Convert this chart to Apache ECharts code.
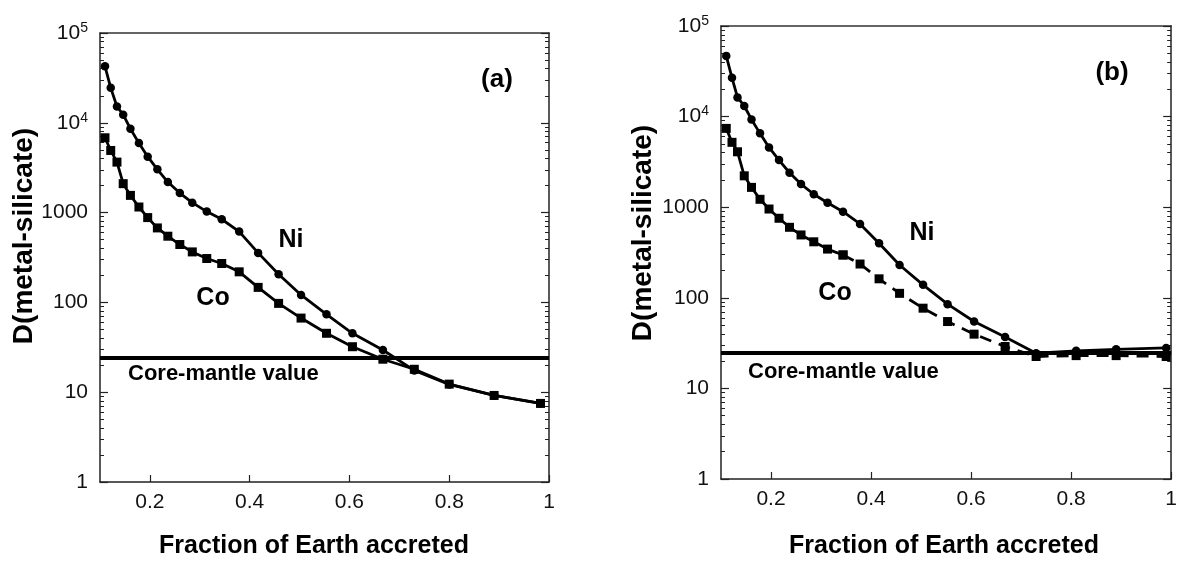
<!DOCTYPE html>
<html>
<head>
<meta charset="utf-8">
<script src="https://cdn.jsdelivr.net/npm/echarts@6/dist/echarts.min.js"></script>
<style>
html,body{margin:0;padding:0;background:#fff;}
#c{width:1180px;height:561px;}
</style>
</head>
<body>
<div id="c"></div>
<script>
// ---- data ----
var X_A = [0.110, 0.1215, 0.134, 0.1465, 0.161, 0.178, 0.1956, 0.215, 0.236, 0.260, 0.285, 0.314, 0.344, 0.379, 0.417, 0.458, 0.503, 0.554, 0.606, 0.667, 0.73, 0.80, 0.89, 0.983];
var NI_A = [42600, 24500, 15200, 12300, 8570, 5940, 4190, 3030, 2190, 1650, 1290, 1026, 843, 615, 356, 206, 121, 73.6, 45.3, 29.5, 17.5, 12.2, 9.2, 7.5];
var CO_A = [6810, 4920, 3650, 2100, 1555, 1154, 880, 675, 546, 441, 365, 308, 271, 219, 147, 97.5, 66.9, 45.3, 32.1, 23.3, 18, 12.3, 9.2, 7.5];

var X_B = [0.1105, 0.122, 0.133, 0.1465, 0.161, 0.178, 0.196, 0.216, 0.237, 0.260, 0.2855, 0.313, 0.344, 0.378, 0.416, 0.457, 0.504, 0.553, 0.606, 0.668, 0.73, 0.81, 0.89, 0.99];
var NI_B = [46800, 26800, 16300, 13100, 9310, 6530, 4570, 3310, 2400, 1800, 1390, 1120, 892, 653, 400, 230, 139, 85, 54.7, 37, 24.5, 26, 27, 28];
var CO_B = [7410, 5200, 4090, 2220, 1655, 1222, 955, 755, 600, 494, 415, 345, 297, 236, 162, 112, 76.8, 54.7, 39.7, 29, 22.5, 23, 23, 22.5];
var CO_B_DASH_FROM = 12; // Co curve in (b) is dashed from this point on

var CORE_MANTLE_A = 24.5;
var CORE_MANTLE_B = 25;

var X_TICKS = [0.2, 0.4, 0.6, 0.8, 1];
var Y_DECADES = [1, 10, 100, 1000, 10000, 100000];
var Y_MINOR_MULT = [2, 3, 4, 5, 6, 7, 8, 9];

// ---- build ----
var FONT = '"Liberation Sans", Arial, Helvetica, sans-serif';
var INK = '#000';
function pairs(xs, ys) { return xs.map(function (x, i) { return [x, ys[i]]; }); }
var minorVals = [];
Y_DECADES.slice(0, -1).forEach(function (d) { Y_MINOR_MULT.forEach(function (m) { minorVals.push(d * m); }); });

var coBSolid = CO_B.map(function (v, i) { return i <= CO_B_DASH_FROM ? v : null; });
var coBDash = CO_B.map(function (v, i) { return i >= CO_B_DASH_FROM ? v : null; });

var grids = [
  { left: 100, top: 33, width: 449, height: 449 },
  { left: 721, top: 26, width: 454, height: 453 }
];

function yLabel(v) {
  if (v >= 10000) return '{num|10}{sup|' + Math.round(Math.log10(v)) + '}';
  return '{num|' + v + '}';
}

var xAxes = [], yAxes = [];
[0, 1].forEach(function (g) {
  xAxes.push({
    gridIndex: g, type: 'value', min: 0.1, max: 1, position: 'bottom',
    axisLine: { show: true, lineStyle: { color: '#222', width: 1.5 } },
    axisTick: { show: true, inside: true, length: 7, customValues: X_TICKS, lineStyle: { color: '#222', width: 1.2 } },
    axisLabel: { show: true, customValues: X_TICKS, margin: 10, color: '#111', fontFamily: FONT, fontSize: 21,
      formatter: function (v) { return String(+v.toFixed(1)); } },
    splitLine: { show: false }
  });
  xAxes.push({
    gridIndex: g, type: 'value', min: 0.1, max: 1, position: 'top',
    axisLine: { show: true, lineStyle: { color: '#333', width: 1.5 } },
    axisTick: { show: false }, axisLabel: { show: false }, splitLine: { show: false }
  });
  // left major
  yAxes.push({
    gridIndex: g, type: 'log', logBase: 10, min: 1, max: 100000, position: 'left',
    axisLine: { show: true, lineStyle: { color: '#222', width: 1.5 } },
    axisTick: { show: true, inside: true, length: 8, customValues: Y_DECADES, lineStyle: { color: '#222', width: 1.2 } },
    axisLabel: { show: true, customValues: Y_DECADES, margin: 12, color: '#111', fontFamily: FONT, fontSize: 21,
      formatter: yLabel,
      rich: {
        num: { fontSize: 21, lineHeight: 24, fontFamily: FONT, color: '#111', fontWeight: 'normal' },
        sup: { fontSize: 14, lineHeight: 24, fontFamily: FONT, color: '#111', fontWeight: 'normal', verticalAlign: 'top' }
      } },
    splitLine: { show: false }
  });
  // left minor
  yAxes.push({
    gridIndex: g, type: 'log', logBase: 10, min: 1, max: 100000, position: 'left',
    axisLine: { show: false },
    axisTick: { show: true, inside: true, length: 4, customValues: minorVals, lineStyle: { color: '#222', width: 1 } },
    axisLabel: { show: false }, splitLine: { show: false }
  });
  // right major
  yAxes.push({
    gridIndex: g, type: 'log', logBase: 10, min: 1, max: 100000, position: 'right',
    axisLine: { show: true, lineStyle: { color: '#222', width: 1.5 } },
    axisTick: { show: true, inside: true, length: 8, customValues: Y_DECADES, lineStyle: { color: '#222', width: 1.2 } },
    axisLabel: { show: false }, splitLine: { show: false }
  });
  // right minor
  yAxes.push({
    gridIndex: g, type: 'log', logBase: 10, min: 1, max: 100000, position: 'right',
    axisLine: { show: false },
    axisTick: { show: true, inside: true, length: 4, customValues: minorVals, lineStyle: { color: '#222', width: 1 } },
    axisLabel: { show: false }, splitLine: { show: false }
  });
});

function lineSeries(name, xi, yi, data, sym, size, dash, markVal) {
  var s = {
    name: name, type: 'line', xAxisIndex: xi, yAxisIndex: yi, data: data,
    symbol: sym, symbolSize: size, showSymbol: true, connectNulls: false,
    itemStyle: { color: INK },
    lineStyle: { color: INK, width: 2.8, type: dash || 'solid' },
    emphasis: { disabled: true }, silent: true, z: 3
  };
  if (markVal != null) {
    s.markLine = {
      silent: true, symbol: ['none', 'none'], label: { show: false },
      lineStyle: { color: INK, width: 4, type: 'solid' },
      emphasis: { disabled: true },
      data: [{ yAxis: markVal }]
    };
  }
  return s;
}

var series = [
  lineSeries('Ni (a)', 0, 0, pairs(X_A, NI_A), 'circle', 8.5, null, CORE_MANTLE_A),
  lineSeries('Co (a)', 0, 0, pairs(X_A, CO_A), 'rect', 9),
  lineSeries('Ni (b)', 2, 4, pairs(X_B, NI_B), 'circle', 8.5, null, CORE_MANTLE_B),
  lineSeries('Co (b)', 2, 4, pairs(X_B, coBSolid), 'rect', 9),
  lineSeries('Co (b) dashed', 2, 4, pairs(X_B, coBDash), 'rect', 9, [12, 8])
];

function txt(x, y, s, size, opts) {
  opts = opts || {};
  return {
    type: 'text', x: x, y: y, rotation: opts.rot || 0, silent: true, z: 10,
    style: { text: s, fill: INK, font: 'bold ' + size + 'px ' + FONT,
      textAlign: opts.align || 'center', textVerticalAlign: 'middle' }
  };
}

var graphic = [
  txt(291, 240, 'Ni', 25),
  txt(213, 298, 'Co', 25),
  txt(128, 374, 'Core-mantle value', 22, { align: 'left' }),
  txt(497, 80, '(a)', 26),
  txt(24, 236, 'D(metal-silicate)', 28, { rot: Math.PI / 2 }),
  txt(314, 546, 'Fraction of Earth accreted', 25),
  txt(922, 233, 'Ni', 25),
  txt(835, 293, 'Co', 25),
  txt(748, 372, 'Core-mantle value', 22, { align: 'left' }),
  txt(1112, 73, '(b)', 26),
  txt(643, 233, 'D(metal-silicate)', 28, { rot: Math.PI / 2 }),
  txt(944, 546, 'Fraction of Earth accreted', 25)
];

var chart = echarts.init(document.getElementById('c'), null, { renderer: 'canvas' });
chart.setOption({
  animation: false,
  backgroundColor: '#fff',
  textStyle: { fontFamily: FONT },
  grid: grids,
  xAxis: xAxes,
  yAxis: yAxes,
  series: series,
  graphic: graphic
});
</script>
</body>
</html>
